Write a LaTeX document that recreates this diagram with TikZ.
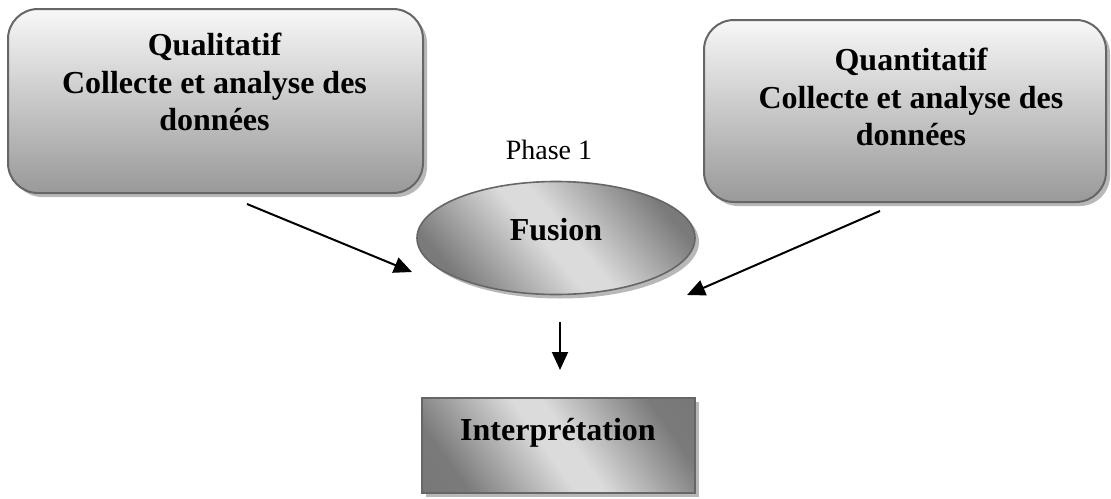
\documentclass[tikz,border=0pt]{standalone}
\usepackage{fontspec}
\setmainfont{Liberation Serif}
\usetikzlibrary{shapes.geometric,shadows,arrows.meta}
\definecolor{edgegray}{HTML}{666666}
\pgfdeclarehorizontalshading{diagband}{100bp}{color(0bp)=(black!55); color(25bp)=(black!52); color(47bp)=(black!14); color(53bp)=(black!14); color(75bp)=(black!52); color(100bp)=(black!55)}
\tikzset{
  softshadow/.style={drop shadow={shadow xshift=4pt,shadow yshift=-4pt,fill=black!35,opacity=0.8}},
  roundbox/.style={draw=edgegray,line width=2pt,rounded corners=30pt,top color=black!3,bottom color=black!40,softshadow,inner sep=0pt},
  fusionshape/.style={ellipse,draw=edgegray,line width=1.6pt,shading=diagband,shading angle=40,softshadow,inner sep=0pt},
  interpbox/.style={draw=edgegray,line width=1.6pt,shading=diagband,shading angle=35,softshadow,inner sep=0pt},
  boldtxt/.style={font=\fontsize{32}{37.5}\selectfont\bfseries,align=center,inner sep=0pt},
  plaintxt/.style={font=\fontsize{28}{32}\selectfont,inner sep=0pt},
  arr/.style={line width=2pt,-{Triangle[length=18pt,width=16pt]}}
}
\begin{document}
\begin{tikzpicture}[x=1pt,y=-1pt]
\useasboundingbox (0,0) rectangle (1111,498);
\node[roundbox,minimum width=415pt,minimum height=184pt] (qual) at (215.5,101) {};
\node[boldtxt,anchor=north] (qualtxt) at (214.5,33) {Qualitatif\\Collecte et analyse des\\données};
\node[roundbox,minimum width=402pt,minimum height=182pt] (quant) at (905,111) {};
\node[boldtxt,anchor=north] (quanttxt) at (911,48) {Quantitatif\\Collecte et analyse des\\données};
\node[plaintxt,anchor=base] (phase) at (549,159) {Phase 1};
\node[fusionshape,minimum width=278pt,minimum height=113pt] (fusion) at (556,238) {};
\node[boldtxt,anchor=base] (fusiontxt) at (556,240) {Fusion};
\node[interpbox,minimum width=273pt,minimum height=95pt] (interp) at (558.5,445.5) {};
\node[boldtxt,anchor=base] (interptxt) at (558,440) {Interprétation};
\coordinate (a1s) at (247,204);
\coordinate (a1e) at (412,272);
\coordinate (a2s) at (880,211);
\coordinate (a2e) at (687,295);
\coordinate (a3s) at (560,322);
\coordinate (a3e) at (560,370);
\draw[arr] (a1s) -- (a1e);
\draw[arr] (a2s) -- (a2e);
\draw[arr] (a3s) -- (a3e);
\end{tikzpicture}
\end{document}
